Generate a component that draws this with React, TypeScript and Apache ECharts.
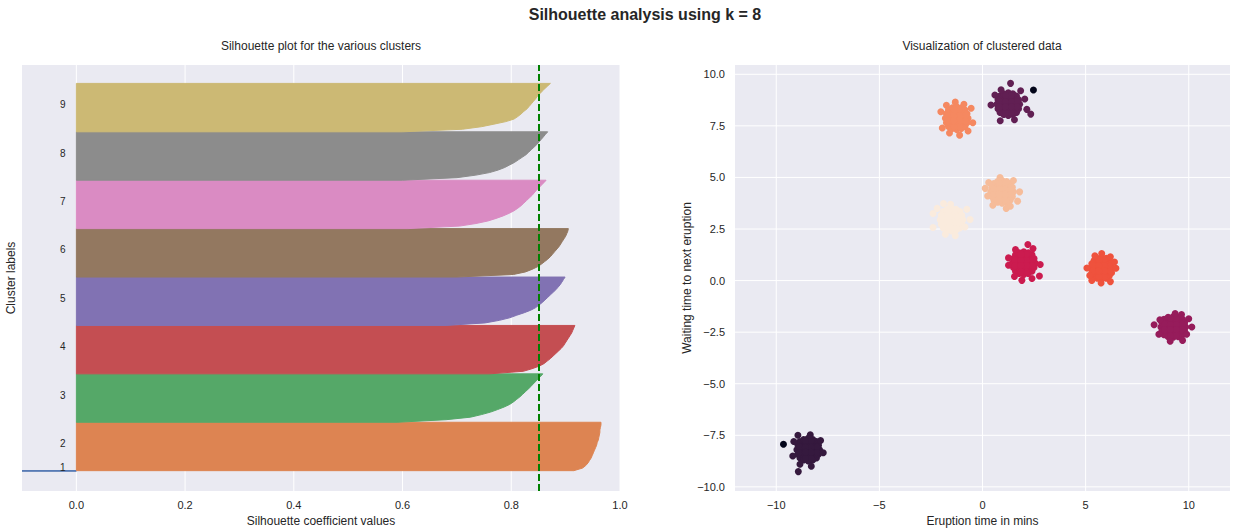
import { useEffect, useRef } from "react";
import * as echarts from "echarts";

const FONT = "'Liberation Sans', Arial, sans-serif";
const TEXT = "#262626";
const BG = "#EAEAF2";

// ---- silhouette plot ----
const clusterLabels = ["1", "2", "3", "4", "5", "6", "7", "8", "9"];
const clusterSizes = [2, 200, 200, 200, 200, 200, 200, 200, 200];
const bandColors = [
  "#4C72B0", "#DD8452", "#55A868", "#C44E52", "#8172B3",
  "#937860", "#DA8BC3", "#8C8C8C", "#CCB974",
];
// sorted silhouette values per cluster, bottom to top of each band
const silhouette1 = [-0.3, -0.25];
const silhouette2 = [0.915, 0.931, 0.937, 0.941, 0.944, 0.947, 0.949, 0.951, 0.953, 0.955, 0.957, 0.958, 0.96, 0.961, 0.962, 0.963, 0.963, 0.964, 0.965, 0.965];
const silhouette3 = [0.59, 0.68, 0.725, 0.745, 0.762, 0.775, 0.787, 0.797, 0.804, 0.81, 0.816, 0.821, 0.826, 0.831, 0.836, 0.84, 0.845, 0.849, 0.854, 0.858];
const silhouette4 = [0.76, 0.822, 0.838, 0.851, 0.86, 0.866, 0.872, 0.877, 0.882, 0.887, 0.892, 0.896, 0.899, 0.902, 0.905, 0.908, 0.911, 0.913, 0.915, 0.917];
const silhouette5 = [0.68, 0.752, 0.778, 0.797, 0.81, 0.824, 0.836, 0.845, 0.851, 0.857, 0.862, 0.867, 0.872, 0.877, 0.882, 0.886, 0.89, 0.893, 0.896, 0.899];
const silhouette6 = [0.7, 0.804, 0.826, 0.838, 0.848, 0.855, 0.861, 0.867, 0.872, 0.876, 0.88, 0.884, 0.888, 0.891, 0.894, 0.897, 0.9, 0.902, 0.904, 0.905];
const silhouette7 = [0.61, 0.705, 0.735, 0.757, 0.772, 0.785, 0.796, 0.805, 0.812, 0.818, 0.823, 0.828, 0.833, 0.838, 0.842, 0.846, 0.851, 0.855, 0.86, 0.864];
const silhouette8 = [0.6, 0.7, 0.735, 0.76, 0.776, 0.788, 0.797, 0.806, 0.813, 0.82, 0.827, 0.832, 0.837, 0.842, 0.847, 0.851, 0.855, 0.859, 0.863, 0.867];
const silhouette9 = [0.6, 0.71, 0.745, 0.768, 0.79, 0.805, 0.812, 0.818, 0.823, 0.829, 0.833, 0.837, 0.841, 0.845, 0.848, 0.853, 0.857, 0.862, 0.867, 0.872];
const silhouetteValues = [
  silhouette1, silhouette2, silhouette3, silhouette4, silhouette5,
  silhouette6, silhouette7, silhouette8, silhouette9,
];
const avgScore = 0.847;
const silhouetteTicks = [0, 0.2, 0.4, 0.6, 0.8, 1.0];
const yStart = 82;
const yTop = 1760;
const labelX = -0.03;

// ---- scatter plot ----
const eruptionTicks = [-10, -5, 0, 5, 10];
const waitingTicks = [-10, -7.5, -5, -2.5, 0, 2.5, 5, 7.5, 10];
const pointColors = [
  "#03051A", "#35193E", "#611F53", "#961C5B", "#CB1B4F",
  "#EF523D", "#F58860", "#F6BC9A", "#FAEBDD",
];
const noisePoints = [[2.47, 9.24], [-9.65, -7.93]];
const bottomLeftPoints = [
  [-8.45, -8.2], [-8.15, -8.2], [-8.75, -8.2], [-8.45, -7.9], [-8.45, -8.5], [-8.2, -7.95], [-8.7, -7.95], [-8.2, -8.45], [-8.7, -8.45],
  [-7.9, -8.2], [-9.0, -8.2], [-8.45, -7.65], [-8.45, -8.75], [-8.05, -7.8], [-8.85, -7.8], [-8.05, -8.6], [-8.85, -8.6],
  [-7.95, -7.98], [-7.95, -8.42], [-8.95, -7.98], [-8.95, -8.42], [-8.23, -7.7], [-8.67, -7.7], [-8.23, -8.7], [-8.67, -8.7],
  [-8.03, -8.07], [-8.03, -8.33], [-8.87, -8.07], [-8.87, -8.33], [-8.32, -7.78], [-8.58, -7.78], [-8.32, -8.62], [-8.58, -8.62],
  [-8.31, -8.08], [-8.59, -8.08], [-8.31, -8.32], [-8.59, -8.32],
  [-8.95, -7.5], [-8.35, -7.48], [-7.85, -7.75], [-7.72, -8.35], [-8.3, -9.0], [-8.85, -8.9], [-9.2, -8.5], [-9.15, -7.8], [-8.93, -9.26],
];
const topPoints = [
  [1.25, 8.55], [1.55, 8.55], [0.95, 8.55], [1.25, 8.85], [1.25, 8.25], [1.5, 8.8], [1.0, 8.8], [1.5, 8.3], [1.0, 8.3],
  [1.8, 8.55], [0.7, 8.55], [1.25, 9.1], [1.25, 8.0], [1.65, 8.95], [0.85, 8.95], [1.65, 8.15], [0.85, 8.15],
  [1.75, 8.77], [1.75, 8.33], [0.75, 8.77], [0.75, 8.33], [1.47, 9.05], [1.03, 9.05], [1.47, 8.05], [1.03, 8.05],
  [1.67, 8.68], [1.67, 8.42], [0.83, 8.68], [0.83, 8.42], [1.38, 8.97], [1.12, 8.97], [1.38, 8.13], [1.12, 8.13],
  [1.39, 8.67], [1.11, 8.67], [1.39, 8.43], [1.11, 8.43],
  [1.36, 9.56], [0.41, 8.51], [0.86, 7.75], [2.34, 8.07], [2.15, 8.3], [2.05, 8.8], [0.6, 9.0], [1.55, 7.8], [1.85, 9.2], [0.9, 9.25],
];
const rightPoints = [
  [9.25, -2.25], [9.55, -2.25], [8.95, -2.25], [9.25, -1.95], [9.25, -2.55], [9.5, -2.0], [9.0, -2.0], [9.5, -2.5], [9.0, -2.5],
  [9.85, -2.25], [8.65, -2.25], [9.25, -1.75], [9.25, -2.75], [9.7, -1.88], [8.8, -1.88], [9.7, -2.62], [8.8, -2.62],
  [9.8, -2.05], [9.8, -2.45], [8.7, -2.05], [8.7, -2.45], [9.5, -1.78], [9.0, -1.78], [9.5, -2.72], [9.0, -2.72],
  [9.67, -2.12], [9.67, -2.38], [8.83, -2.12], [8.83, -2.38], [9.38, -1.83], [9.12, -1.83], [9.38, -2.67], [9.12, -2.67],
  [9.39, -2.13], [9.11, -2.13], [9.39, -2.37], [9.11, -2.37],
  [8.32, -2.14], [10.15, -2.25], [9.34, -1.6], [9.1, -2.94], [9.7, -2.9], [8.55, -2.6], [10.0, -1.85], [8.6, -1.9], [9.9, -2.6], [9.65, -1.65],
];
const redPoints = [
  [2.0, 0.85], [2.3, 0.85], [1.7, 0.85], [2.0, 1.15], [2.0, 0.55], [2.25, 1.1], [1.75, 1.1], [2.25, 0.6], [1.75, 0.6],
  [2.55, 0.85], [1.45, 0.85], [2.0, 1.4], [2.0, 0.3], [2.4, 1.25], [1.6, 1.25], [2.4, 0.45], [1.6, 0.45],
  [2.5, 1.07], [2.5, 0.63], [1.5, 1.07], [1.5, 0.63], [2.22, 1.35], [1.78, 1.35], [2.22, 0.35], [1.78, 0.35],
  [2.42, 0.98], [2.42, 0.72], [1.58, 0.98], [1.58, 0.72], [2.13, 1.27], [1.87, 1.27], [2.13, 0.43], [1.87, 0.43],
  [2.14, 0.97], [1.86, 0.97], [2.14, 0.73], [1.86, 0.73],
  [2.2, 1.75], [1.91, 0.01], [2.8, 0.78], [2.76, 0.22], [1.26, 0.74], [1.26, 1.1], [1.6, 1.5], [2.45, 1.55], [2.4, 0.1], [1.55, 0.2],
];
const orangePoints = [
  [5.78, 0.6], [6.08, 0.6], [5.48, 0.6], [5.78, 0.9], [5.78, 0.3], [6.03, 0.85], [5.53, 0.85], [6.03, 0.35], [5.53, 0.35],
  [6.3, 0.6], [5.26, 0.6], [5.78, 1.12], [5.78, 0.08], [6.15, 0.97], [5.41, 0.97], [6.15, 0.23], [5.41, 0.23],
  [6.26, 0.82], [6.26, 0.38], [5.3, 0.82], [5.3, 0.38], [6.0, 1.08], [5.56, 1.08], [6.0, 0.12], [5.56, 0.12],
  [6.2, 0.73], [6.2, 0.47], [5.36, 0.73], [5.36, 0.47], [5.91, 1.02], [5.65, 1.02], [5.91, 0.18], [5.65, 0.18],
  [5.92, 0.72], [5.64, 0.72], [5.92, 0.48], [5.64, 0.48],
  [5.06, 0.61], [5.78, 1.31], [5.75, -0.12], [6.47, 0.6], [6.4, 0.9], [5.3, 0.0], [6.2, -0.05], [5.45, 1.2], [6.2, 1.15], [5.2, 0.25],
];
const salmonPoints = [
  [-1.25, 7.87], [-0.95, 7.87], [-1.55, 7.87], [-1.25, 8.17], [-1.25, 7.57], [-1.0, 8.12], [-1.5, 8.12], [-1.0, 7.62], [-1.5, 7.62],
  [-0.7, 7.87], [-1.8, 7.87], [-1.25, 8.42], [-1.25, 7.32], [-0.85, 8.27], [-1.65, 8.27], [-0.85, 7.47], [-1.65, 7.47],
  [-0.75, 8.09], [-0.75, 7.65], [-1.75, 8.09], [-1.75, 7.65], [-1.03, 8.37], [-1.47, 8.37], [-1.03, 7.37], [-1.47, 7.37],
  [-0.83, 8.0], [-0.83, 7.74], [-1.67, 8.0], [-1.67, 7.74], [-1.12, 8.29], [-1.38, 8.29], [-1.12, 7.45], [-1.38, 7.45],
  [-1.11, 7.99], [-1.39, 7.99], [-1.11, 7.75], [-1.39, 7.75],
  [-0.55, 8.35], [-0.47, 7.65], [-1.11, 7.05], [-2.02, 8.18], [-1.32, 8.65], [-0.9, 8.55], [-1.95, 7.4], [-1.6, 7.15], [-0.7, 7.25], [-1.75, 8.5],
];
const peachPoints = [
  [0.95, 4.3], [1.25, 4.3], [0.65, 4.3], [0.95, 4.6], [0.95, 4.0], [1.2, 4.55], [0.7, 4.55], [1.2, 4.05], [0.7, 4.05],
  [1.5, 4.3], [0.4, 4.3], [0.95, 4.85], [0.95, 3.75], [1.35, 4.7], [0.55, 4.7], [1.35, 3.9], [0.55, 3.9],
  [1.45, 4.52], [1.45, 4.08], [0.45, 4.52], [0.45, 4.08], [1.17, 4.8], [0.73, 4.8], [1.17, 3.8], [0.73, 3.8],
  [1.37, 4.43], [1.37, 4.17], [0.53, 4.43], [0.53, 4.17], [1.08, 4.72], [0.82, 4.72], [1.08, 3.88], [0.82, 3.88],
  [1.09, 4.42], [0.81, 4.42], [1.09, 4.18], [0.81, 4.18],
  [0.13, 4.47], [1.15, 3.5], [1.8, 4.3], [0.85, 5.0], [1.5, 4.85], [0.3, 4.75], [1.7, 3.85], [0.5, 3.65], [1.35, 3.6], [0.25, 4.1],
];
const creamPoints = [
  [-1.5, 2.95], [-1.2, 2.95], [-1.8, 2.95], [-1.5, 3.25], [-1.5, 2.65], [-1.25, 3.2], [-1.75, 3.2], [-1.25, 2.7], [-1.75, 2.7],
  [-0.95, 2.95], [-2.05, 2.95], [-1.5, 3.5], [-1.5, 2.4], [-1.1, 3.35], [-1.9, 3.35], [-1.1, 2.55], [-1.9, 2.55],
  [-1.0, 3.17], [-1.0, 2.73], [-2.0, 3.17], [-2.0, 2.73], [-1.28, 3.45], [-1.72, 3.45], [-1.28, 2.45], [-1.72, 2.45],
  [-1.08, 3.08], [-1.08, 2.82], [-1.92, 3.08], [-1.92, 2.82], [-1.37, 3.37], [-1.63, 3.37], [-1.37, 2.53], [-1.63, 2.53],
  [-1.36, 3.07], [-1.64, 3.07], [-1.36, 2.83], [-1.64, 2.83],
  [-2.4, 3.25], [-2.4, 2.57], [-0.76, 3.46], [-0.6, 2.96], [-1.32, 2.17], [-1.89, 3.74], [-1.55, 3.7], [-0.85, 2.6], [-2.2, 3.5], [-1.8, 2.25],
];
const scatterGroups = [
  noisePoints, bottomLeftPoints, topPoints, rightPoints, redPoints,
  orangePoints, salmonPoints, peachPoints, creamPoints,
];

const minusFmt = (s: string) => s.replace("-", "\u2212");

function vGrid(ticks: number[], gi: number) {
  return {
    type: "custom",
    xAxisIndex: gi,
    yAxisIndex: gi,
    z: 1,
    silent: true,
    data: ticks.map((v) => [v, 0]),
    renderItem: (params: any, api: any) => {
      const cs = params.coordSys;
      const x = api.coord([api.value(0), api.value(1)])[0];
      return {
        type: "line",
        shape: { x1: x, y1: cs.y, x2: x, y2: cs.y + cs.height },
        style: { stroke: "#ffffff", lineWidth: 1 },
      };
    },
  };
}

function hGrid(ticks: number[], gi: number) {
  return {
    type: "custom",
    xAxisIndex: gi,
    yAxisIndex: gi,
    z: 1,
    silent: true,
    data: ticks.map((v) => [0, v]),
    renderItem: (params: any, api: any) => {
      const cs = params.coordSys;
      const y = api.coord([api.value(0), api.value(1)])[1];
      return {
        type: "line",
        shape: { x1: cs.x, y1: y, x2: cs.x + cs.width, y2: y },
        style: { stroke: "#ffffff", lineWidth: 1 },
      };
    },
  };
}

function SilhouetteChart() {
  const chartRef = useRef(null);

  useEffect(() => {
    const chart = echarts.init(chartRef.current, null, { renderer: "svg" });

    const yLowers: number[] = [];
    let acc = yStart;
    clusterSizes.forEach((s) => {
      yLowers.push(acc);
      acc += s;
    });

    const axisText = { color: TEXT, fontSize: 11, fontFamily: FONT };
    const nameText = { color: TEXT, fontSize: 12, fontFamily: FONT };

    const option = {
      animation: false,
      graphic: [
        {
          type: "text",
          x: 645,
          y: 14,
          style: {
            text: "Silhouette analysis using k = 8",
            fill: TEXT,
            font: `bold 16px ${FONT}`,
            align: "center",
            verticalAlign: "middle",
          },
        },
        {
          type: "text",
          x: 321,
          y: 46,
          style: {
            text: "Silhouette plot for the various clusters",
            fill: TEXT,
            font: `12px ${FONT}`,
            align: "center",
            verticalAlign: "middle",
          },
        },
        {
          type: "text",
          x: 982,
          y: 46,
          style: {
            text: "Visualization of clustered data",
            fill: TEXT,
            font: `12px ${FONT}`,
            align: "center",
            verticalAlign: "middle",
          },
        },
      ],
      grid: [
        { left: 22, top: 65, width: 598, height: 426, show: true, backgroundColor: BG, borderWidth: 0 },
        { left: 735, top: 65, width: 495, height: 426, show: true, backgroundColor: BG, borderWidth: 0 },
      ],
      xAxis: [
        {
          gridIndex: 0,
          type: "value",
          min: -0.1,
          max: 1.0,
          name: "Silhouette coefficient values",
          nameLocation: "middle",
          nameGap: 23,
          nameTextStyle: nameText,
          axisLine: { show: false },
          axisTick: { show: false },
          splitLine: { show: false },
          axisLabel: {
            ...axisText,
            margin: 8,
            customValues: silhouetteTicks,
            formatter: (v: number) => v.toFixed(1),
          },
        },
        {
          gridIndex: 1,
          type: "value",
          min: -12,
          max: 12,
          name: "Eruption time in mins",
          nameLocation: "middle",
          nameGap: 23,
          nameTextStyle: nameText,
          axisLine: { show: false },
          axisTick: { show: false },
          splitLine: { show: false },
          axisLabel: {
            ...axisText,
            margin: 8,
            customValues: eruptionTicks,
            formatter: (v: number) => minusFmt(String(v)),
          },
        },
      ],
      yAxis: [
        {
          gridIndex: 0,
          type: "value",
          min: 0,
          max: yTop,
          name: "Cluster labels",
          nameLocation: "middle",
          nameGap: 5,
          nameRotate: 90,
          nameTextStyle: nameText,
          axisLine: { show: false },
          axisTick: { show: false },
          splitLine: { show: false },
          axisLabel: { show: false },
        },
        {
          gridIndex: 1,
          type: "value",
          min: -10.2,
          max: 10.45,
          name: "Waiting time to next eruption",
          nameLocation: "middle",
          nameGap: 42,
          nameRotate: 90,
          nameTextStyle: nameText,
          axisLine: { show: false },
          axisTick: { show: false },
          splitLine: { show: false },
          axisLabel: {
            ...axisText,
            margin: 10,
            customValues: waitingTicks,
            formatter: (v: number) => minusFmt(v.toFixed(1)),
          },
        },
      ],
      series: [
        vGrid(silhouetteTicks, 0),
        vGrid(eruptionTicks, 1),
        hGrid(waitingTicks, 1),
        {
          type: "custom",
          xAxisIndex: 0,
          yAxisIndex: 0,
          z: 2,
          clip: true,
          silent: true,
          data: clusterSizes.map((_, i) => [0, yLowers[i], i]),
          renderItem: (params: any, api: any) => {
            const i = api.value(2);
            const vals = silhouetteValues[i];
            const lo = yLowers[i];
            const size = clusterSizes[i];
            const pts = [api.coord([0, lo])];
            vals.forEach((v, k) => {
              pts.push(api.coord([v, lo + (size * k) / (vals.length - 1)]));
            });
            pts.push(api.coord([0, lo + size]));
            return {
              type: "polygon",
              shape: { points: pts },
              style: { fill: bandColors[i], stroke: bandColors[i], lineWidth: 1 },
            };
          },
          markLine: {
            silent: true,
            symbol: ["none", "none"],
            label: { show: false },
            lineStyle: { color: "#008000", width: 2, type: [7, 3] },
            data: [{ xAxis: avgScore }],
          },
        },
        {
          type: "custom",
          xAxisIndex: 0,
          yAxisIndex: 0,
          z: 3,
          silent: true,
          data: clusterLabels.map((_, i) => [labelX, yLowers[i] + clusterSizes[i] / 2, i]),
          renderItem: (params: any, api: any) => {
            const p = api.coord([api.value(0), api.value(1)]);
            return {
              type: "text",
              x: p[0],
              y: p[1] - 3,
              style: {
                text: clusterLabels[api.value(2)],
                fill: TEXT,
                font: `10px ${FONT}`,
                align: "left",
                verticalAlign: "middle",
              },
            };
          },
        },
        ...scatterGroups.map((pts, i) => ({
          type: "scatter",
          xAxisIndex: 1,
          yAxisIndex: 1,
          z: i === 0 ? 4 : 3,
          silent: true,
          symbol: "circle",
          symbolSize: 7,
          itemStyle: { color: pointColors[i], opacity: 1 },
          data: pts,
        })),
      ],
    };

    chart.setOption(option as any);

    return () => {
      chart.dispose();
    };
  }, []);

  return (
    <div
      ref={chartRef}
      style={{ position: "absolute", left: 0, top: 0, width: 1236, height: 532 }}
    />
  );
}

export default function App() {
  return <SilhouetteChart />;
}
